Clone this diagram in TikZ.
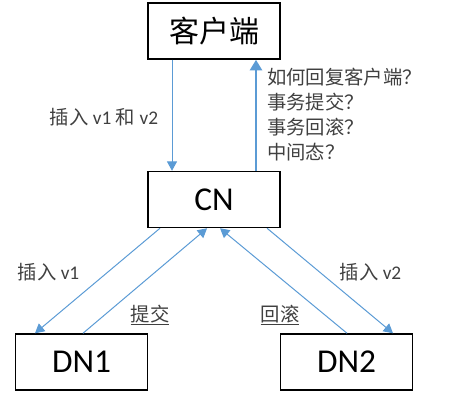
\documentclass[tikz,border=0pt]{standalone}
\usepackage{fontspec}
\setmainfont{Carlito}
\newfontfamily\cjk{Noto Sans CJK SC}
\usetikzlibrary{arrows.meta}
\definecolor{linkblue}{HTML}{5B9BD5}
\definecolor{txtgray}{HTML}{404040}
\tikzset{
  box/.style = {draw, line width=1.1pt, minimum width=99pt, minimum height=42pt, inner sep=0pt},
  link/.style = {draw=linkblue, line width=0.75pt, -{Triangle[length=7pt,width=7.5pt]}, linkblue},
  lbl/.style = {text=txtgray, font=\fontsize{14.5}{18.75}\selectfont, inner sep=0pt}
}
\begin{document}
\begin{tikzpicture}[x=0.75pt, y=-0.75pt]
        \useasboundingbox (0,0) rectangle (454,405);
        \node[box, font=\fontsize{22.5}{26}\selectfont\cjk] (client) at (214,31) {客户端};
        \node[box, font=\fontsize{25}{30}\selectfont] (cn) at (214,199.5) {CN};
        \node[box, font=\fontsize{25}{30}\selectfont] (dn1) at (81.5,362) {DN1};
        \node[box, font=\fontsize{25}{30}\selectfont] (dn2) at (346.5,362) {DN2};
        % client <-> cn
        \draw[link] ([xshift=-31.5pt]client.south) -- ([xshift=-31.5pt]cn.north);
        \draw[link, line width=2.2pt, -{Triangle[length=8pt,width=9pt]}] ([xshift=31.5pt]cn.north) -- ([xshift=31.5pt]client.south);
        % cn <-> dn
        \draw[link] ([xshift=-40.5pt]cn.south) -- ([xshift=-34.9pt]dn1.north);
        \draw[link] ([xshift=1.1pt]dn1.north) -- ([xshift=-5.2pt]cn.south);
        \draw[link] ([xshift=0.4pt]dn2.north) -- ([xshift=4.5pt]cn.south);
        \draw[link] ([xshift=39.8pt]cn.south) -- ([xshift=34.9pt]dn2.north);
        % labels
        \node[lbl] (ins) at (104,117) {{\cjk 插入} v1 {\cjk 和} v2};
        \node[lbl, anchor=west, align=left, font=\fontsize{14.5}{18.75}\selectfont\cjk] (ask) at (267,115)
          {如何回复客户端？\\事务提交？\\事务回滚？\\中间态？};
        \node[lbl] (ins1) at (48.5,272) {{\cjk 插入} v1};
        \node[lbl] (ins2) at (370.5,272) {{\cjk 插入} v2};
        \node[lbl, font=\fontsize{14.5}{18.75}\selectfont\cjk] (commit) at (150,315) {\underline{提交}};
        \node[lbl, font=\fontsize{14.5}{18.75}\selectfont\cjk] (abort) at (280,315) {\underline{回滚}};
      \end{tikzpicture}
\end{document}
